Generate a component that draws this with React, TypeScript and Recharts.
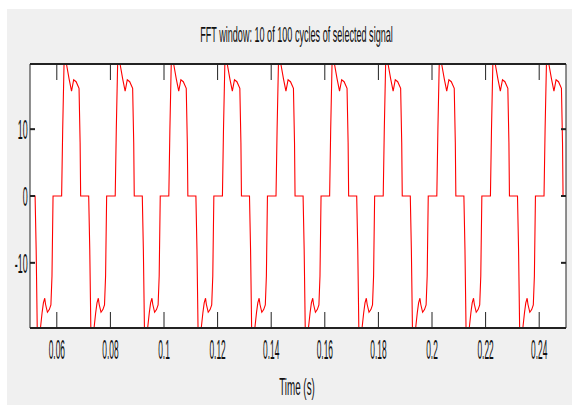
import React from 'react';
import { LineChart, Line, XAxis, YAxis, CartesianGrid } from 'recharts';

// one cycle of the signal: offset from cycle start (s) and value
const cycleOffsets = [
  0, 0.0019, 0.0023, 0.0027, 0.0039, 0.0045, 0.005, 0.0055, 0.0058, 0.0065, 0.0072, 0.0078, 0.0082, 0.0086,
  0.0118, 0.0122, 0.0127, 0.0136, 0.0146, 0.0155, 0.0163, 0.0172, 0.0183, 0.0187, 0.0189,
];
const cycleValues = [
  0, 0, -8, -19.75, -19.75, -17.5, -16, -15.3, -16.2, -17.4, -17, -16.3, -12, 0,
  0, 10, 19.75, 19.75, 17.5, 15.7, 17.4, 17.1, 16.1, 8, 0,
];
// the 10 cycles shown in the FFT window
const cycleStarts = [0.05, 0.07, 0.09, 0.11, 0.13, 0.15, 0.17, 0.19, 0.21, 0.23];
const windowEnd = 0.25;
const endValue = 0;

const xTicks = [0.06, 0.08, 0.1, 0.12, 0.14, 0.16, 0.18, 0.2, 0.22, 0.24];
const xTickLabels = ['0.06', '0.08', '0.1', '0.12', '0.14', '0.16', '0.18', '0.2', '0.22', '0.24'];
const yTicks = [-10, 0, 10];
const yTickLabels = ['-10', '0', '10'];

const TITLE = 'FFT window: 10 of 100 cycles of selected signal';
const X_LABEL = 'Time (s)';

const data = [
  ...cycleStarts.flatMap((start) =>
    cycleOffsets.map((off, i) => ({ t: start + off, v: cycleValues[i] }))
  ),
  { t: windowEnd, v: endValue },
];

const FONT = '"Liberation Sans", Arial, sans-serif';
const TEXT = '#111111';
const FRAME = '#222222';

// the reference text is strongly condensed, so glyphs are squeezed horizontally
const XTick = (props: any) => {
  const { x, y, payload } = props;
  const i = xTicks.indexOf(payload.value);
  return (
    <text
      transform={`translate(${x},${y + 31}) scale(0.3,1)`}
      textAnchor="middle"
      fontSize={28}
      fontFamily={FONT}
      fill={TEXT}
    >
      {i >= 0 ? xTickLabels[i] : String(payload.value)}
    </text>
  );
};

const YTick = (props: any) => {
  const { x, y, payload } = props;
  const i = yTicks.indexOf(payload.value);
  return (
    <text
      transform={`translate(${x},${y + 10}) scale(0.32,1)`}
      textAnchor="end"
      fontSize={28}
      fontFamily={FONT}
      fill={TEXT}
    >
      {i >= 0 ? yTickLabels[i] : String(payload.value)}
    </text>
  );
};

const NoTick = () => <g />;

const renderTitle = (props: any) => {
  const vb = props.viewBox;
  const cx = vb.x + vb.width / 2 - 1.5;
  return (
    <text
      transform={`translate(${cx},${vb.y - 21}) scale(0.413,1)`}
      textAnchor="middle"
      fontSize={22}
      fontFamily={FONT}
      fill={TEXT}
    >
      {TITLE}
    </text>
  );
};

const renderXLabel = (props: any) => {
  const vb = props.viewBox;
  const cx = vb.x + vb.width / 2 - 1;
  return (
    <text
      transform={`translate(${cx},${vb.y + 67}) scale(0.427,1)`}
      textAnchor="middle"
      fontSize={23}
      fontFamily={FONT}
      fill={TEXT}
    >
      {X_LABEL}
    </text>
  );
};

export default function App() {
  return (
    <div
      style={{
        position: 'absolute',
        left: 7,
        top: 9,
        width: 565,
        height: 396,
        background: '#f0f0f0',
      }}
    >
      <LineChart
        width={565}
        height={396}
        data={data}
        margin={{ top: 54, right: 5, bottom: 37, left: 0 }}
      >
        <CartesianGrid fill="#ffffff" horizontal={false} vertical={false} />
        <XAxis
          dataKey="t"
          type="number"
          domain={[0.05, 0.25]}
          ticks={xTicks}
          allowDataOverflow
          height={40}
          tickSize={-16}
          tickMargin={16}
          tick={XTick}
          axisLine={{ stroke: FRAME, strokeWidth: 2 }}
          tickLine={{ stroke: FRAME, strokeWidth: 1 }}
          label={renderXLabel}
        />
        <XAxis
          xAxisId="top"
          orientation="top"
          dataKey="t"
          type="number"
          domain={[0.05, 0.25]}
          ticks={xTicks}
          allowDataOverflow
          height={1}
          tickSize={-16}
          tick={NoTick}
          axisLine={{ stroke: FRAME, strokeWidth: 2 }}
          tickLine={{ stroke: FRAME, strokeWidth: 1 }}
          label={renderTitle}
        />
        <YAxis
          type="number"
          domain={[-19.75, 19.75]}
          ticks={yTicks}
          allowDataOverflow
          width={23}
          tickSize={-5}
          tickMargin={7.3}
          tick={YTick}
          axisLine={{ stroke: FRAME, strokeWidth: 1 }}
          tickLine={{ stroke: FRAME, strokeWidth: 2 }}
        />
        <YAxis
          yAxisId="right"
          orientation="right"
          type="number"
          domain={[-19.75, 19.75]}
          ticks={yTicks}
          allowDataOverflow
          width={1}
          tickSize={-5}
          tick={NoTick}
          axisLine={{ stroke: FRAME, strokeWidth: 1 }}
          tickLine={{ stroke: FRAME, strokeWidth: 2 }}
        />
        <Line
          type="linear"
          dataKey="v"
          stroke="#ff0000"
          strokeWidth={1.1}
          dot={false}
          isAnimationActive={false}
        />
      </LineChart>
    </div>
  );
}
